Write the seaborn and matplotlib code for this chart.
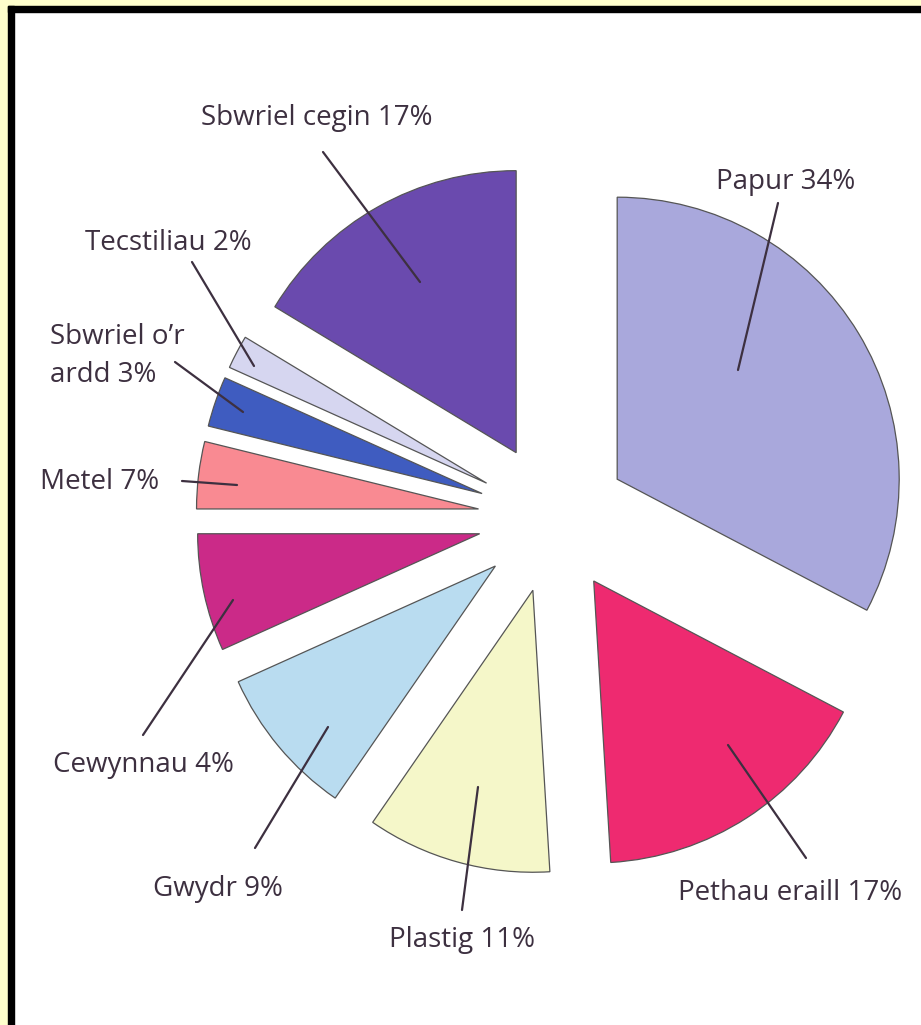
import matplotlib
matplotlib.use("Agg")
import matplotlib.pyplot as plt
import seaborn as sns
from matplotlib.patches import Rectangle

# wedge shares, clockwise from 12 o'clock (as drawn)
categories = ['Papur', 'Pethau eraill', 'Plastig', 'Gwydr', 'Cewynnau',
              'Metel', "Sbwriel o'r ardd", 'Tecstiliau', 'Sbwriel cegin']
shares = [34, 17, 11, 9, 7, 4, 3, 2, 17]
# label texts as printed on the chart
label_texts = ['Papur 34%', 'Pethau eraill 17%', 'Plastig 11%', 'Gwydr 9%',
               'Cewynnau 4%', 'Metel 7%', "Sbwriel o\u2019r\nardd 3%",
               'Tecstiliau 2%', 'Sbwriel cegin 17%']
colors = ['#a9a8dc', '#ee2a70', '#f5f7c9', '#b9dcf0', '#cb2a88',
          '#f98a92', '#3f5cc0', '#d6d6f0', '#6a4aae']

W, H = 921, 1025

# label layout in pixel coords: text pos, leader start, leader end, align
layout = [
    ((786, 182), (778, 203), (738, 370), 'center'),
    ((790, 893), (806, 858), (728, 745), 'center'),
    ((462, 940), (462, 910), (478, 787), 'center'),
    ((218, 889), (255, 848), (328, 727), 'center'),
    ((143, 765), (143, 735), (233, 600), 'center'),
    ((100, 482), (182, 481), (237, 485), 'center'),
    ((50, 356), (175, 362), (243, 412), 'left'),
    ((168, 243), (192, 262), (254, 366), 'center'),
    ((317, 118), (323, 152), (420, 282), 'center'),
]

sns.set_theme(style='white')
plt.rcParams['font.family'] = ['Open Sans', 'DejaVu Sans']

fig = plt.figure(figsize=(W / 100, H / 100), dpi=100)
fig.patch.set_facecolor('white')
ax = fig.add_axes([0, 0, 1, 1])

# explode is in data units here (radius is in pixels)
palette = sns.color_palette(colors)
ax.pie(shares, colors=palette, startangle=90, counterclock=False,
       radius=282, center=(553, H - 518), explode=[75] * len(shares),
       wedgeprops=dict(edgecolor='#555555', linewidth=0.9))

txt_color = '#3d3040'
for txt, (tp, ls, le, ha) in zip(label_texts, layout):
    ax.text(tp[0], H - tp[1], txt, ha=ha, va='center', fontsize=20,
            color=txt_color, linespacing=1.45, zorder=5)
    ax.plot([ls[0], le[0]], [H - ls[1], H - le[1]], color='#3d3040', lw=1.6,
            zorder=5)

ax.set_xlim(0, W)
ax.set_ylim(0, H)
ax.set_aspect('equal')
ax.axis('off')

# frame: yellow band on top/left, then black line
fig.patches.append(Rectangle((0, 0), 8 / W, 1, transform=fig.transFigure,
                             color='#ffffcc', zorder=10))
fig.patches.append(Rectangle((0, 1 - 6 / H), 1, 6 / H, transform=fig.transFigure,
                             color='#ffffcc', zorder=10))
fig.patches.append(Rectangle((8 / W, 0), 6 / W, 1 - 6 / H, transform=fig.transFigure,
                             color='black', zorder=11))
fig.patches.append(Rectangle((8 / W, 1 - 12 / H), 1, 6 / H, transform=fig.transFigure,
                             color='black', zorder=11))

fig.savefig('out.png', dpi=100)
